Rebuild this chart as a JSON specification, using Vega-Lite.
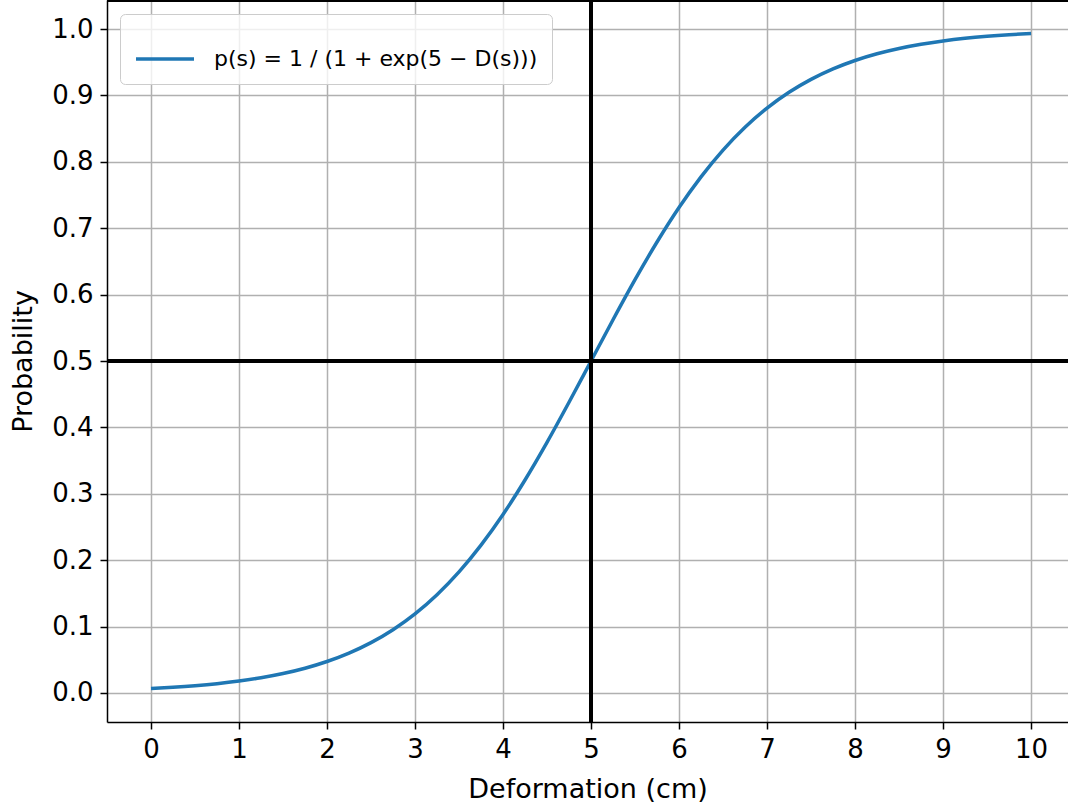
{
  "$schema": "https://vega.github.io/schema/vega-lite/v6.json",
  "autosize": {"type": "none"},
  "padding": {"left": 107, "top": 0, "right": 0, "bottom": 88},
  "width": 961,
  "height": 722,
  "background": "white",
  "config": {
    "view": {"stroke": null},
    "font": "DejaVu Sans",
    "axis": {
      "grid": true,
      "labelFont": "DejaVu Sans",
      "titleFont": "DejaVu Sans",
      "labelFontSize": 26,
      "titleFontSize": 27,
      "titleFontWeight": "normal",
      "labelColor": "black",
      "titleColor": "black",
      "domainColor": "black",
      "domainWidth": 1.5,
      "tickColor": "black",
      "tickWidth": 1.5,
      "tickSize": 7,
      "labelPadding": 7,
      "gridColor": "#b0b0b0",
      "gridWidth": 1.5
    },
    "legend": {
      "labelFont": "DejaVu Sans",
      "labelFontSize": 22,
      "labelColor": "black"
    }
  },
  "data": {
    "values": [
      {"x": 0, "p": 0.00669},
      {"x": 0.25, "p": 0.00858},
      {"x": 0.5, "p": 0.01099},
      {"x": 0.75, "p": 0.01406},
      {"x": 1, "p": 0.01799},
      {"x": 1.25, "p": 0.02298},
      {"x": 1.5, "p": 0.02931},
      {"x": 1.75, "p": 0.03733},
      {"x": 2, "p": 0.04743},
      {"x": 2.25, "p": 0.06009},
      {"x": 2.5, "p": 0.07586},
      {"x": 2.75, "p": 0.09535},
      {"x": 3, "p": 0.1192},
      {"x": 3.25, "p": 0.14805},
      {"x": 3.5, "p": 0.1824},
      {"x": 3.75, "p": 0.2227},
      {"x": 4, "p": 0.2689},
      {"x": 4.25, "p": 0.32082},
      {"x": 4.5, "p": 0.3775},
      {"x": 4.75, "p": 0.43782},
      {"x": 5, "p": 0.5},
      {"x": 5.25, "p": 0.56218},
      {"x": 5.5, "p": 0.6225},
      {"x": 5.75, "p": 0.67918},
      {"x": 6, "p": 0.7311},
      {"x": 6.25, "p": 0.7773},
      {"x": 6.5, "p": 0.8176},
      {"x": 6.75, "p": 0.85195},
      {"x": 7, "p": 0.8808},
      {"x": 7.25, "p": 0.90465},
      {"x": 7.5, "p": 0.9241},
      {"x": 7.75, "p": 0.93991},
      {"x": 8, "p": 0.9526},
      {"x": 8.25, "p": 0.96267},
      {"x": 8.5, "p": 0.9707},
      {"x": 8.75, "p": 0.97702},
      {"x": 9, "p": 0.982},
      {"x": 9.25, "p": 0.98594},
      {"x": 9.5, "p": 0.989},
      {"x": 9.75, "p": 0.99142},
      {"x": 10, "p": 0.9933}
    ]
  },
  "layer": [
    {
      "mark": {"type": "line", "strokeWidth": 3.5, "interpolate": "monotone"},
      "encoding": {
        "x": {
          "field": "x",
          "type": "quantitative",
          "title": "Deformation (cm)",
          "scale": {"domain": [-0.5, 10.42], "nice": false, "zero": false},
          "axis": {"grid": true, "values": [0,1,2,3,4,5,6,7,8,9,10], "format": "d", "titlePadding": 14}
        },
        "y": {
          "field": "p",
          "type": "quantitative",
          "title": "Probability",
          "scale": {"domain": [-0.0437, 1.0437], "nice": false, "zero": false},
          "axis": {"grid": true, "values": [0,0.1,0.2,0.3,0.4,0.5,0.6,0.7,0.8,0.9,1.0], "format": ".1f", "titlePadding": 14}
        },
        "color": {
          "datum": "p(s) = 1 / (1 + exp(5 − D(s)))",
          "type": "nominal",
          "scale": {"range": ["#1f77b4"]},
          "legend": {
            "title": null,
            "orient": "none",
            "legendX": 13,
            "legendY": 14,
            "symbolType": "stroke",
            "symbolSize": 3364,
            "symbolStrokeWidth": 3.5,
            "labelOffset": 18,
            "labelLimit": 600,
            "padding": 14,
            "fillColor": "rgba(255,255,255,0.8)",
            "strokeColor": "#cccccc",
            "cornerRadius": 5
          }
        }
      }
    },
    {
      "mark": {"type": "rule", "color": "black", "strokeWidth": 3},
      "encoding": {"y": {"datum": 0.5, "type": "quantitative"}}
    },
    {
      "mark": {"type": "rule", "color": "black", "strokeWidth": 3},
      "encoding": {"x": {"datum": 5, "type": "quantitative"}}
    },
    {
      "mark": {"type": "rule", "color": "black", "strokeWidth": 3},
      "encoding": {"y": {"datum": 1.0437, "type": "quantitative"}}
    }
  ]
}
